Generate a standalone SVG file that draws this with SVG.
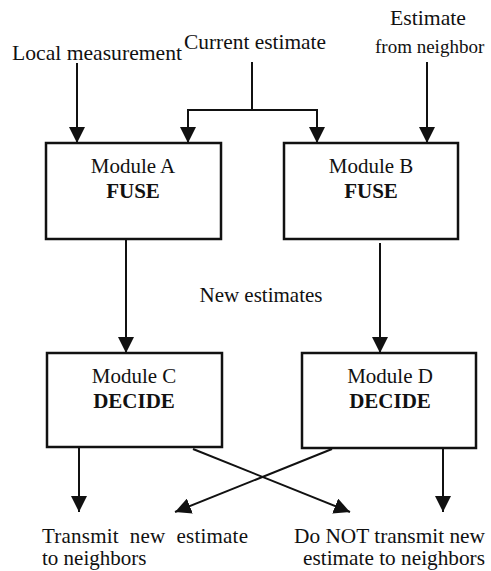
<svg xmlns="http://www.w3.org/2000/svg" width="491" height="571" viewBox="0 0 491 571">
<style>
text{font-family:"Liberation Serif","Times New Roman",serif;font-size:21px;fill:#111}
.b{font-weight:bold}
.box{fill:#fff;stroke:#111;stroke-width:2.5}
.ln{fill:none;stroke:#111;stroke-width:2}
</style>
<defs>
<marker id="ah" markerUnits="userSpaceOnUse" markerWidth="16" markerHeight="16" viewBox="0 0 16 16" refX="16" refY="8" orient="auto">
<path d="M0,0 L16,8 L0,16 z" fill="#111"/>
</marker>
</defs>
<rect width="491" height="571" fill="#fff"/>
<g id="labels-top">
<text x="12" y="60" textLength="170" lengthAdjust="spacingAndGlyphs">Local measurement</text>
<text x="184" y="49" textLength="142" lengthAdjust="spacingAndGlyphs">Current estimate</text>
<text x="390" y="25" textLength="76" lengthAdjust="spacingAndGlyphs">Estimate</text>
<text x="375" y="53" style="font-size:19px">from neighbor</text>
</g>
<g id="connectors">
<path class="ln" d="M77,63 V143" marker-end="url(#ah)"/>
<path class="ln" d="M252,62 V110 M187,110 H318"/>
<path class="ln" d="M188,110 V143" marker-end="url(#ah)"/>
<path class="ln" d="M317,110 V143" marker-end="url(#ah)"/>
<path class="ln" d="M427,62 V143" marker-end="url(#ah)"/>
<path class="ln" d="M126,240 V353" marker-end="url(#ah)"/>
<path class="ln" d="M380,243 V353" marker-end="url(#ah)"/>
<path class="ln" d="M79,448 V512" marker-end="url(#ah)"/>
<path class="ln" d="M443,449 V512" marker-end="url(#ah)"/>
<path class="ln" d="M193,449 L350,512" marker-end="url(#ah)"/>
<path class="ln" d="M332,449 L175,512" marker-end="url(#ah)"/>
</g>
<g id="moduleA">
<rect class="box" x="46" y="143" width="175" height="96"/>
<text x="133" y="173" text-anchor="middle">Module A</text>
<text class="b" x="133" y="198" text-anchor="middle">FUSE</text>
</g>
<g id="moduleB">
<rect class="box" x="284" y="143" width="174" height="96"/>
<text x="371" y="173" text-anchor="middle">Module B</text>
<text class="b" x="371" y="198" text-anchor="middle">FUSE</text>
</g>
<g id="new-estimates">
<text x="261" y="302" text-anchor="middle">New estimates</text>
</g>
<g id="moduleC">
<rect class="box" x="47" y="353" width="175" height="94"/>
<text x="134" y="383" text-anchor="middle">Module C</text>
<text class="b" x="134" y="408" text-anchor="middle">DECIDE</text>
</g>
<g id="moduleD">
<rect class="box" x="302" y="353" width="174" height="95"/>
<text x="390" y="383" text-anchor="middle">Module D</text>
<text class="b" x="390" y="408" text-anchor="middle">DECIDE</text>
</g>
<g id="outputs">
<text x="42" y="543" xml:space="preserve" textLength="206" lengthAdjust="spacing">Transmit  new  estimate</text>
<text x="42" y="565">to neighbors</text>
<text x="294" y="543" textLength="191" lengthAdjust="spacingAndGlyphs">Do NOT transmit new</text>
<text x="303" y="565" textLength="182" lengthAdjust="spacingAndGlyphs">estimate to neighbors</text>
</g>
</svg>
